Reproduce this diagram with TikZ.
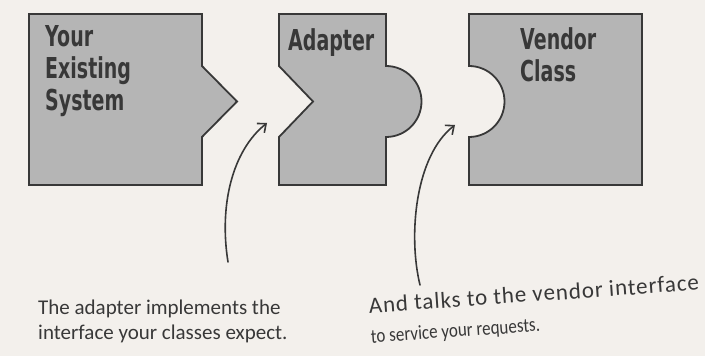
\documentclass[tikz,border=0pt]{standalone}
\usepackage{fontspec}
\usetikzlibrary{arrows.meta}
\newfontfamily\boxfont{DejaVu Sans}[FakeStretch=0.66]
\newfontfamily\handfont{Carlito}
\newfontfamily\handwide{Carlito}[LetterSpace=4]
\newfontfamily\handnarrow{Carlito}[FakeStretch=0.85]
\definecolor{bg}{HTML}{F3F0EC}
\definecolor{boxfill}{HTML}{B5B5B5}
\definecolor{ink}{HTML}{383838}
\begin{document}
\begin{tikzpicture}[x=1pt,y=1pt,
  piece/.style={fill=boxfill,draw=ink,line width=1.8pt,line join=miter},
  boxlabel/.style={inner sep=0pt,anchor=north west,align=left,text=ink,
    font=\boxfont\bfseries\fontsize{28.8}{32}\selectfont},
  note/.style={inner sep=0pt,anchor=north west,align=left,text=ink,
    font=\handfont\fontsize{21}{25}\selectfont},
  pointer/.style={draw=ink,line width=1.6pt,line cap=round,
    -{Straight Barb[length=7pt,width=12pt,line width=1.6pt]}}]
\path[fill=bg] (0,0) rectangle (705,356);
\useasboundingbox (0,0) rectangle (705,356);

% Your Existing System
\draw[piece] (29,342) -- (202,342) -- (202,290) -- (237,254.5) -- (202,219)
  -- (202,171) -- (29,171) -- cycle;
% Adapter
\draw[piece] (279,342) -- (386,342) -- (386,290)
  arc[start angle=90,end angle=-90,radius=35.5] -- (386,171) -- (279,171)
  -- (279,219) -- (313,254.5) -- (279,290) -- cycle;
% Vendor Class
\draw[piece] (469,342) -- (642,342) -- (642,171) -- (469,171) -- (469,219)
  arc[start angle=-90,end angle=90,radius=35.5] -- cycle;

\node[boxlabel] (sys) at (45,331) {Your\\Existing\\System};
\node[boxlabel] (adp) at (288,328) {Adapter};
\node[boxlabel] (vnd) at (520,329) {Vendor\\Class};

\node[note] (n1) at (38,56) {The adapter implements the\\interface your classes expect.};
\node[note,rotate=4] (n2) at (368,59) {\handwide\fontsize{23}{25}\selectfont And talks to the vendor interface\\[5pt]\handnarrow\fontsize{20}{25}\selectfont to service your requests.};

\coordinate (p1s) at (228,94);
\coordinate (p1e) at (267,233);
\coordinate (p2s) at (420,71);
\coordinate (p2e) at (455,231);
\draw[pointer] (p1s) .. controls +(-9,56) and +(-35,-28) .. (p1e);
\draw[pointer] (p2s) .. controls +(-12,49) and +(-40,-31) .. (p2e);
\end{tikzpicture}
\end{document}
